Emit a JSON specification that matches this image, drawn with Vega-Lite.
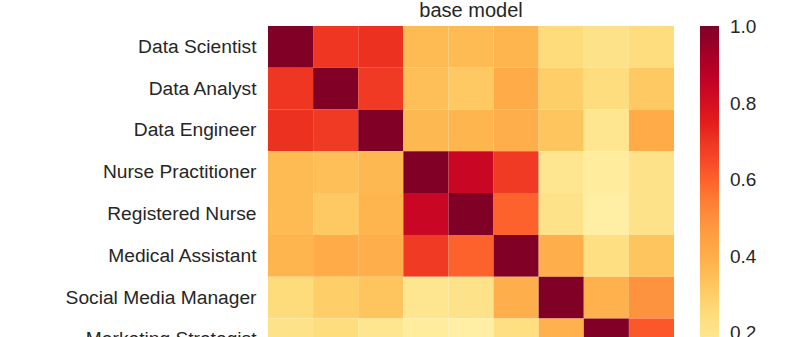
{
  "$schema": "https://vega.github.io/schema/vega-lite/v6.json",
  "autosize": {"type": "none"},
  "padding": {"left": 268, "top": 26, "right": 118, "bottom": 0},
  "width": 406,
  "height": 376,
  "background": "white",
  "config": {
    "view": {"stroke": null},
    "font": "Liberation Sans",
    "text": {"font": "Liberation Sans"}
  },
  "title": {
    "text": "base model",
    "fontSize": 20,
    "fontWeight": "normal",
    "font": "Liberation Sans",
    "color": "#262626",
    "anchor": "middle",
    "baseline": "alphabetic",
    "offset": 8,
    "dy": 19
  },
  "data": {
    "values": [
      {"row": "Data Scientist", "col": "Data Scientist", "value": 1.0},
      {"row": "Data Scientist", "col": "Data Analyst", "value": 0.70},
      {"row": "Data Scientist", "col": "Data Engineer", "value": 0.71},
      {"row": "Data Scientist", "col": "Nurse Practitioner", "value": 0.36},
      {"row": "Data Scientist", "col": "Registered Nurse", "value": 0.36},
      {"row": "Data Scientist", "col": "Medical Assistant", "value": 0.38},
      {"row": "Data Scientist", "col": "Social Media Manager", "value": 0.25},
      {"row": "Data Scientist", "col": "Marketing Strategist", "value": 0.21},
      {"row": "Data Scientist", "col": "Content Creator", "value": 0.24},

      {"row": "Data Analyst", "col": "Data Scientist", "value": 0.70},
      {"row": "Data Analyst", "col": "Data Analyst", "value": 1.0},
      {"row": "Data Analyst", "col": "Data Engineer", "value": 0.69},
      {"row": "Data Analyst", "col": "Nurse Practitioner", "value": 0.35},
      {"row": "Data Analyst", "col": "Registered Nurse", "value": 0.32},
      {"row": "Data Analyst", "col": "Medical Assistant", "value": 0.41},
      {"row": "Data Analyst", "col": "Social Media Manager", "value": 0.30},
      {"row": "Data Analyst", "col": "Marketing Strategist", "value": 0.24},
      {"row": "Data Analyst", "col": "Content Creator", "value": 0.32},

      {"row": "Data Engineer", "col": "Data Scientist", "value": 0.71},
      {"row": "Data Engineer", "col": "Data Analyst", "value": 0.69},
      {"row": "Data Engineer", "col": "Data Engineer", "value": 1.0},
      {"row": "Data Engineer", "col": "Nurse Practitioner", "value": 0.37},
      {"row": "Data Engineer", "col": "Registered Nurse", "value": 0.38},
      {"row": "Data Engineer", "col": "Medical Assistant", "value": 0.40},
      {"row": "Data Engineer", "col": "Social Media Manager", "value": 0.33},
      {"row": "Data Engineer", "col": "Marketing Strategist", "value": 0.19},
      {"row": "Data Engineer", "col": "Content Creator", "value": 0.41},

      {"row": "Nurse Practitioner", "col": "Data Scientist", "value": 0.36},
      {"row": "Nurse Practitioner", "col": "Data Analyst", "value": 0.35},
      {"row": "Nurse Practitioner", "col": "Data Engineer", "value": 0.37},
      {"row": "Nurse Practitioner", "col": "Nurse Practitioner", "value": 1.0},
      {"row": "Nurse Practitioner", "col": "Registered Nurse", "value": 0.84},
      {"row": "Nurse Practitioner", "col": "Medical Assistant", "value": 0.69},
      {"row": "Nurse Practitioner", "col": "Social Media Manager", "value": 0.19},
      {"row": "Nurse Practitioner", "col": "Marketing Strategist", "value": 0.15},
      {"row": "Nurse Practitioner", "col": "Content Creator", "value": 0.21},

      {"row": "Registered Nurse", "col": "Data Scientist", "value": 0.36},
      {"row": "Registered Nurse", "col": "Data Analyst", "value": 0.32},
      {"row": "Registered Nurse", "col": "Data Engineer", "value": 0.38},
      {"row": "Registered Nurse", "col": "Nurse Practitioner", "value": 0.84},
      {"row": "Registered Nurse", "col": "Registered Nurse", "value": 1.0},
      {"row": "Registered Nurse", "col": "Medical Assistant", "value": 0.60},
      {"row": "Registered Nurse", "col": "Social Media Manager", "value": 0.21},
      {"row": "Registered Nurse", "col": "Marketing Strategist", "value": 0.13},
      {"row": "Registered Nurse", "col": "Content Creator", "value": 0.21},

      {"row": "Medical Assistant", "col": "Data Scientist", "value": 0.38},
      {"row": "Medical Assistant", "col": "Data Analyst", "value": 0.41},
      {"row": "Medical Assistant", "col": "Data Engineer", "value": 0.40},
      {"row": "Medical Assistant", "col": "Nurse Practitioner", "value": 0.69},
      {"row": "Medical Assistant", "col": "Registered Nurse", "value": 0.60},
      {"row": "Medical Assistant", "col": "Medical Assistant", "value": 1.0},
      {"row": "Medical Assistant", "col": "Social Media Manager", "value": 0.40},
      {"row": "Medical Assistant", "col": "Marketing Strategist", "value": 0.23},
      {"row": "Medical Assistant", "col": "Content Creator", "value": 0.33},

      {"row": "Social Media Manager", "col": "Data Scientist", "value": 0.25},
      {"row": "Social Media Manager", "col": "Data Analyst", "value": 0.30},
      {"row": "Social Media Manager", "col": "Data Engineer", "value": 0.33},
      {"row": "Social Media Manager", "col": "Nurse Practitioner", "value": 0.19},
      {"row": "Social Media Manager", "col": "Registered Nurse", "value": 0.21},
      {"row": "Social Media Manager", "col": "Medical Assistant", "value": 0.40},
      {"row": "Social Media Manager", "col": "Social Media Manager", "value": 1.0},
      {"row": "Social Media Manager", "col": "Marketing Strategist", "value": 0.39},
      {"row": "Social Media Manager", "col": "Content Creator", "value": 0.49},

      {"row": "Marketing Strategist", "col": "Data Scientist", "value": 0.21},
      {"row": "Marketing Strategist", "col": "Data Analyst", "value": 0.24},
      {"row": "Marketing Strategist", "col": "Data Engineer", "value": 0.19},
      {"row": "Marketing Strategist", "col": "Nurse Practitioner", "value": 0.15},
      {"row": "Marketing Strategist", "col": "Registered Nurse", "value": 0.13},
      {"row": "Marketing Strategist", "col": "Medical Assistant", "value": 0.23},
      {"row": "Marketing Strategist", "col": "Social Media Manager", "value": 0.39},
      {"row": "Marketing Strategist", "col": "Marketing Strategist", "value": 1.0},
      {"row": "Marketing Strategist", "col": "Content Creator", "value": 0.62},

      {"row": "Content Creator", "col": "Data Scientist", "value": 0.24},
      {"row": "Content Creator", "col": "Data Analyst", "value": 0.32},
      {"row": "Content Creator", "col": "Data Engineer", "value": 0.41},
      {"row": "Content Creator", "col": "Nurse Practitioner", "value": 0.21},
      {"row": "Content Creator", "col": "Registered Nurse", "value": 0.21},
      {"row": "Content Creator", "col": "Medical Assistant", "value": 0.33},
      {"row": "Content Creator", "col": "Social Media Manager", "value": 0.49},
      {"row": "Content Creator", "col": "Marketing Strategist", "value": 0.62},
      {"row": "Content Creator", "col": "Content Creator", "value": 1.0}
    ]
  },
  "mark": {"type": "rect"},
  "encoding": {
    "x": {
      "field": "col",
      "type": "nominal",
      "sort": null,
      "scale": {"paddingInner": 0, "paddingOuter": 0},
      "axis": {
        "title": null,
        "domain": false,
        "ticks": false,
        "labelAngle": -90,
        "labelFontSize": 19,
        "labelColor": "#262626",
        "labelPadding": 12
      }
    },
    "y": {
      "field": "row",
      "type": "nominal",
      "sort": null,
      "scale": {"paddingInner": 0, "paddingOuter": 0},
      "axis": {
        "title": null,
        "domain": false,
        "ticks": false,
        "labelFontSize": 19.2,
        "labelColor": "#262626",
        "labelPadding": 12,
        "labelLimit": 400
      }
    },
    "color": {
      "field": "value",
      "type": "quantitative",
      "scale": {
        "domain": [0.02, 0.1425, 0.265, 0.3875, 0.51, 0.6325, 0.755, 0.8775, 1.003],
        "range": ["#ffffcc", "#ffeda0", "#fed976", "#feb24c", "#fd8d3c", "#fc4e2a", "#e31a1c", "#bd0026", "#800026"]
      },
      "legend": {
        "title": null,
        "orient": "right",
        "offset": 26,
        "padding": 0,
        "gradientLength": 376,
        "gradientThickness": 19,
        "gradientStrokeWidth": 0,
        "values": [0.2, 0.4, 0.6, 0.8, 1.0],
        "format": ".1f",
        "labelFontSize": 19,
        "labelColor": "#262626",
        "labelOffset": 11,
        "labelOverlap": false
      }
    }
  }
}
